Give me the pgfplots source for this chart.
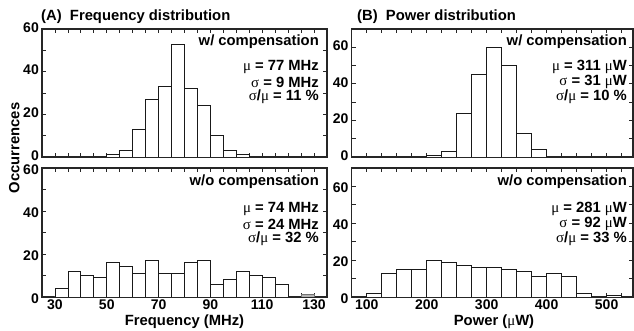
\documentclass[border=0pt]{standalone}
\usepackage{fontspec}
\setmainfont{Liberation Sans}
\newfontfamily\grk{Liberation Serif}
\usepackage{pgfplots}
\pgfplotsset{compat=1.18}

\newcommand{\mug}{{\mdseries\grk μ}}
\newcommand{\sig}{{\mdseries\grk σ}}
\newcommand{\fnt}{\fontsize{14.8}{16}\selectfont\bfseries}
\newcommand{\tfnt}{\fontsize{14}{16}\selectfont\bfseries}

\tikzset{ann/.style={anchor=east, font=\fnt, inner sep=0pt}}
\pgfplotsset{
  hist/.style={
    scale only axis,
    axis line style={line width=1.2pt, black!85},
    tick style={line width=0.8pt, black!85},
    major tick length=4pt, minor tick length=4pt,
    tick align=inside,
    ymin=0,
    tick label style={font=\tfnt},
    /pgf/number format/assume math mode=true,
    xticklabel style={yshift=1pt},
    yticklabel style={inner sep=0pt, xshift=-3pt},
  },
  toppanel/.style={yticklabel style={yshift=1.5pt}},
  botpanel/.style={yticklabel style={yshift=-1.5pt}},
  bars/.style={ybar interval, fill=white, draw=black!90, line width=0.8pt},
}

\begin{document}
\begin{tikzpicture}
\path[use as bounding box] (0,0) rectangle (634pt,331pt);

% (A) top
\begin{axis}[hist, toppanel, at={(42pt,174pt)}, anchor=south west, width=285pt, height=128pt,
  xmin=25, xmax=135, ymax=60,
  xtick={30,50,...,130}, minor xtick={25,30,...,135}, xticklabels={},
  ytick={0,20,40,60}, minor ytick={10,30,50}]
\addplot[bars] coordinates {(50,1)(55,3)(60,13)(65,27)(70,33)(75,53)(80,32)(85,24)(90,10)(95,3)(100,1)(105,0)};
\node[ann] at ([xshift=-8pt]rel axis cs:1,0.898) {w/ compensation};
\node[ann] at ([xshift=-8pt]rel axis cs:1,0.703) {\mug\ = 77 MHz};
\node[ann] at ([xshift=-8pt]rel axis cs:1,0.586) {\sig\ = 9 MHz};
\node[ann] at ([xshift=-8pt]rel axis cs:1,0.469) {\sig/\mug\ = 11 \%};
\end{axis}

% (A) bottom
\begin{axis}[hist, botpanel, at={(42pt,34pt)}, anchor=south west, width=285pt, height=129pt,
  xmin=25, xmax=135, ymax=60,
  xtick={30,50,...,130}, minor xtick={25,30,...,135},
  ytick={0,20,40,60}, minor ytick={10,30,50}]
\addplot[bars] coordinates {(30,4)(35,12)(40,10)(45,9)(50,16)(55,14)(60,11)(65,17)(70,11)(75,11)(80,16)(85,17)(90,6)(95,8)(100,12)(105,10)(110,9)(115,6)(120,0)};
\addplot[ybar interval, fill=black!30, draw=black!55, line width=0.8pt] coordinates {(125,1)(130,0)};
\node[ann] at ([xshift=-8pt]rel axis cs:1,0.891) {w/o compensation};
\node[ann] at ([xshift=-8pt]rel axis cs:1,0.682) {\mug\ = 74 MHz};
\node[ann] at ([xshift=-8pt]rel axis cs:1,0.566) {\sig\ = 24 MHz};
\node[ann] at ([xshift=-8pt]rel axis cs:1,0.450) {\sig/\mug\ = 32 \%};
\end{axis}

% (B) top
\begin{axis}[hist, toppanel, at={(351.7pt,174pt)}, anchor=south west, width=281.3pt, height=128pt,
  xmin=75, xmax=544, ymax=70,
  xtick={100,200,...,500}, minor xtick={75,100,...,525}, xticklabels={},
  ytick={0,20,40,60}, minor ytick={10,30,50,70}]
\addplot[bars] coordinates {(200,1)(225,3)(250,24)(275,45)(300,60)(325,50)(350,13)(375,4)(400,0)};
\node[ann] at ([xshift=-6pt]rel axis cs:1,0.898) {w/ compensation};
\node[ann] at ([xshift=-6pt]rel axis cs:1,0.703) {\mug\ = 311 \mug W};
\node[ann] at ([xshift=-6pt]rel axis cs:1,0.586) {\sig\ = 31 \mug W};
\node[ann] at ([xshift=-6pt]rel axis cs:1,0.469) {\sig/\mug\ = 10 \%};
\end{axis}

% (B) bottom
\begin{axis}[hist, botpanel, at={(351.7pt,34pt)}, anchor=south west, width=281.3pt, height=129pt,
  xmin=75, xmax=544, ymax=70,
  xtick={100,200,...,500}, minor xtick={75,100,...,525},
  ytick={0,20,40,60}, minor ytick={10,30,50,70}]
\addplot[bars] coordinates {(100,2)(125,13)(150,15)(175,15)(200,20)(225,19)(250,17)(275,16)(300,16)(325,15)(350,14)(375,11)(400,13)(425,11)(450,2)(475,0)};
\addplot[bars] coordinates {(500,1)(525,0)};
\node[ann] at ([xshift=-6pt]rel axis cs:1,0.891) {w/o compensation};
\node[ann] at ([xshift=-6pt]rel axis cs:1,0.682) {\mug\ = 281 \mug W};
\node[ann] at ([xshift=-6pt]rel axis cs:1,0.566) {\sig\ = 92 \mug W};
\node[ann] at ([xshift=-6pt]rel axis cs:1,0.450) {\sig/\mug\ = 33 \%};
\end{axis}

\node[anchor=base west, font=\fnt, inner sep=0pt] at (41pt,310.5pt) {(A)\ \ Frequency distribution};
\node[anchor=base west, font=\fnt, inner sep=0pt] at (357pt,310.5pt) {(B)\ \ Power distribution};
\node[rotate=90, anchor=base, font=\fnt, inner sep=0pt] at (19.5pt,183pt) {Occurrences};
\node[font=\fnt, inner sep=0pt] at (184.5pt,9pt) {Frequency (MHz)};
\node[font=\fnt, inner sep=0pt] at (494pt,9pt) {Power (\mug W)};
\end{tikzpicture}
\end{document}
